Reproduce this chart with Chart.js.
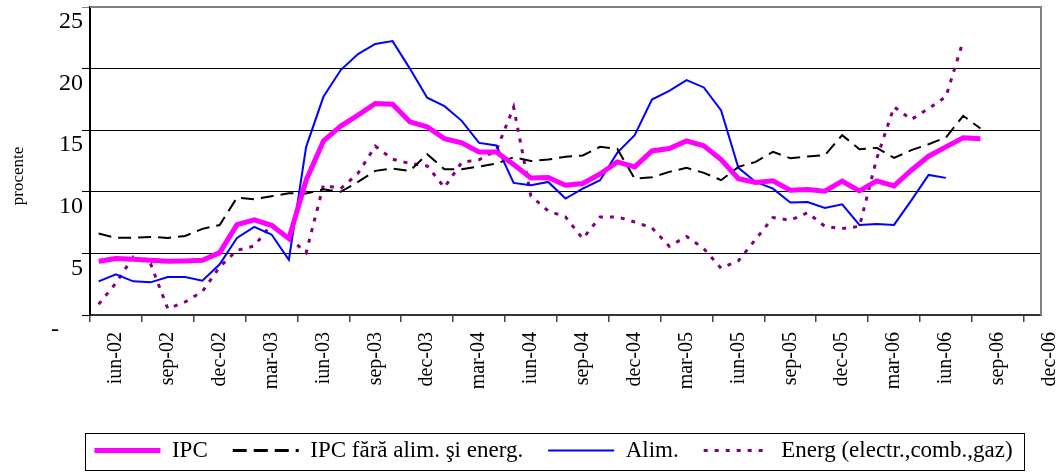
<!DOCTYPE html>
<html>
<head>
<meta charset="utf-8">
<script src="https://cdn.jsdelivr.net/npm/chart.js@4.4.1/dist/chart.umd.min.js"></script>
<style>
html,body{margin:0;padding:0;background:#fff;}
#wrap{width:1064px;height:472px;}
</style>
</head>
<body>
<div id="wrap"><canvas id="c" width="1064" height="472"></canvas></div>
<script>
// Monthly categories (May 2002 .. Nov 2006)
const months = [
 'mai-02','iun-02','iul-02','aug-02','sep-02','oct-02','noi-02','dec-02',
 'ian-03','feb-03','mar-03','apr-03','mai-03','iun-03','iul-03','aug-03','sep-03','oct-03','noi-03','dec-03',
 'ian-04','feb-04','mar-04','apr-04','mai-04','iun-04','iul-04','aug-04','sep-04','oct-04','noi-04','dec-04',
 'ian-05','feb-05','mar-05','apr-05','mai-05','iun-05','iul-05','aug-05','sep-05','oct-05','noi-05','dec-05',
 'ian-06','feb-06','mar-06','apr-06','mai-06','iun-06','iul-06','aug-06','sep-06','oct-06','noi-06'
];
const xTickLabels = ['iun-02','sep-02','dec-02','mar-03','iun-03','sep-03','dec-03','mar-04','iun-04',
 'sep-04','dec-04','mar-05','iun-05','sep-05','dec-05','mar-06','iun-06','sep-06','dec-06'];
const yTickValues = [0,5,10,15,20,25];

const ipc = [4.36,4.58,4.52,4.44,4.36,4.39,4.44,5.06,7.34,7.72,
 7.28,6.2,10.94,14.13,15.33,16.22,17.17,17.11,15.68,15.27,
 14.32,13.97,13.24,13.24,12.21,11.13,11.16,10.53,10.67,11.45,
 12.43,12.02,13.32,13.51,14.13,13.73,12.62,11.07,10.75,10.89,
 10.13,10.18,10.05,10.86,10.07,10.89,10.48,11.75,12.89,13.65,
 14.38,14.3];
const ipcCore = [6.61,6.26,6.28,6.34,6.26,6.42,6.99,7.3,9.53,9.4,
 9.64,9.88,9.86,10.2,10.0,10.8,11.7,11.89,11.7,13.05,
 11.83,11.83,12.05,12.29,12.8,12.5,12.62,12.84,12.95,13.65,
 13.48,11.07,11.18,11.62,11.94,11.54,10.94,12.02,12.43,13.24,
 12.73,12.86,12.97,14.6,13.46,13.57,12.75,13.38,13.86,14.41,
 16.17,15.14];
const alim = [2.73,3.3,2.73,2.65,3.09,3.09,2.79,4.12,6.26,7.15,
 6.53,4.47,13.65,17.71,19.88,21.18,22.0,22.23,20.0,17.64,
 16.95,15.76,13.97,13.76,10.72,10.53,10.8,9.45,10.26,10.94,
 13.18,14.6,17.49,18.2,19.06,18.47,16.6,11.94,10.8,10.26,
 9.13,9.17,8.69,8.99,7.31,7.39,7.31,9.31,11.37,11.13];
const energ = [0.87,2.6,4.71,4.17,0.51,1.06,1.9,3.9,5.25,5.6,
 7.37,6.28,5.06,10.53,10.26,11.5,13.7,12.65,12.3,12.1,
 10.35,12.4,12.6,13.35,16.87,9.65,8.45,7.96,6.2,7.96,
 7.96,7.55,7.07,5.58,6.37,5.39,3.8,4.4,6.15,7.91,
 7.69,8.3,7.2,7.01,7.2,12.7,16.9,15.87,16.76,17.71,
 22.26];

const seriesNames = ['IPC','IPC f\u0103r\u0103 alim. \u015fi energ.','Alim.','Energ (electr.,comb.,gaz)'];

// category centre on a linear axis spanning the months
const toXY = arr => arr.map((v,i) => ({x: i + 0.5, y: v}));

const SERIF = '"Liberation Serif","Times New Roman",serif';

const framePlugin = {
  id: 'frame',
  afterLayout(chart){
    const lg = chart.legend;
    lg.left += 33; lg.right += 33;
  },
  afterDraw(chart){
    const {ctx, chartArea: a} = chart;
    ctx.save();
    ctx.strokeStyle = '#808080';
    ctx.lineWidth = 2;
    ctx.beginPath();
    ctx.moveTo(a.left, a.top); ctx.lineTo(a.right, a.top); ctx.lineTo(a.right, a.bottom);
    ctx.stroke();
    // legend border
    const lg = chart.legend;
    const pad = lg.options.labels.padding;
    const lw = lg.lineWidths[0];
    const start = (lg.left + pad + lg.right - lw) / 2;
    const end = start + lw - pad;
    const fs = lg.options.labels.font.size;
    const cy = lg.top + pad + fs / 2;
    ctx.strokeStyle = '#000';
    ctx.lineWidth = 1;
    ctx.strokeRect(Math.round(start - 9) + 0.5, Math.round(cy - 18) + 0.5, Math.round(end - start + 21), 37);
    ctx.restore();
  }
};

new Chart(document.getElementById('c'), {
  type: 'line',
  data: {
    datasets: [
      {label: seriesNames[0], data: toXY(ipc), borderColor: '#FF00FF', backgroundColor: '#FF00FF', borderWidth: 5, pointRadius: 0, tension: 0},
      {label: seriesNames[1], data: toXY(ipcCore), borderColor: '#000000', backgroundColor: '#000000', borderWidth: 2, borderDash: [13,7], pointRadius: 0, tension: 0},
      {label: seriesNames[2], data: toXY(alim), borderColor: '#0000FF', backgroundColor: '#0000FF', borderWidth: 2, pointRadius: 0, tension: 0},
      {label: seriesNames[3], data: toXY(energ), borderColor: '#800080', backgroundColor: '#800080', borderWidth: 3, borderDash: [4,7], pointRadius: 0, tension: 0}
    ]
  },
  options: {
    responsive: false,
    animation: false,
    devicePixelRatio: 1,
    layout: {padding: {left: 0, right: 23, top: 7, bottom: 0}},
    plugins: {
      legend: {
        position: 'bottom',
        labels: {
          usePointStyle: true, pointStyle: 'line', pointStyleWidth: 66,
          padding: 25, color: '#000',
          font: {family: SERIF, size: 23},
          generateLabels: chart => chart.data.datasets.map((ds, i) => ({
            text: ds.label,
            strokeStyle: ds.borderColor,
            fillStyle: ds.borderColor,
            lineWidth: i === 1 ? 3 : ds.borderWidth,
            lineDash: i === 1 ? [14, 7] : (ds.borderDash || []),
            lineCap: 'butt',
            pointStyle: 'line',
            fontColor: '#000',
            hidden: false,
            datasetIndex: i
          }))
        }
      },
      tooltip: {enabled: false}
    },
    scales: {
      x: {
        type: 'linear',
        min: 0,
        max: months.length,
        afterBuildTicks: s => { s.ticks = xTickLabels.map((t,k) => ({value: k * 3})); },
        afterFit: s => { s.height = 99; },
        ticks: {
          autoSkip: false, minRotation: 90, maxRotation: 90,
          labelOffset: 26, padding: 10, color: '#000',
          font: {family: SERIF, size: 20},
          callback: (v, i) => xTickLabels[i]
        },
        grid: {drawOnChartArea: false, drawTicks: true, tickLength: 7, color: '#444', lineWidth: 1.5},
        border: {color: '#333', width: 2}
      },
      y: {
        min: 0, max: 25,
        afterBuildTicks: s => { s.ticks = yTickValues.map(v => ({value: v})); },
        afterFit: s => { s.width = 90; s.paddingTop = 0; s.paddingBottom = 0; },
        ticks: {
          color: '#000', padding: -1, labelOffset: 15,
          font: {family: SERIF, size: 24},
          callback: v => v === 0 ? '-    ' : String(v)
        },
        grid: {
          color: c => (c.tick && c.tick.value === 25) ? '#808080' : '#000',
          lineWidth: 1, tickLength: 8
        },
        border: {color: '#000', width: 2},
        title: {
          display: true, text: 'procente       ', color: '#000',
          font: {family: SERIF, size: 17},
          padding: {top: 8, bottom: 0}
        }
      }
    }
  },
  plugins: [framePlugin]
});
</script>
</body>
</html>
